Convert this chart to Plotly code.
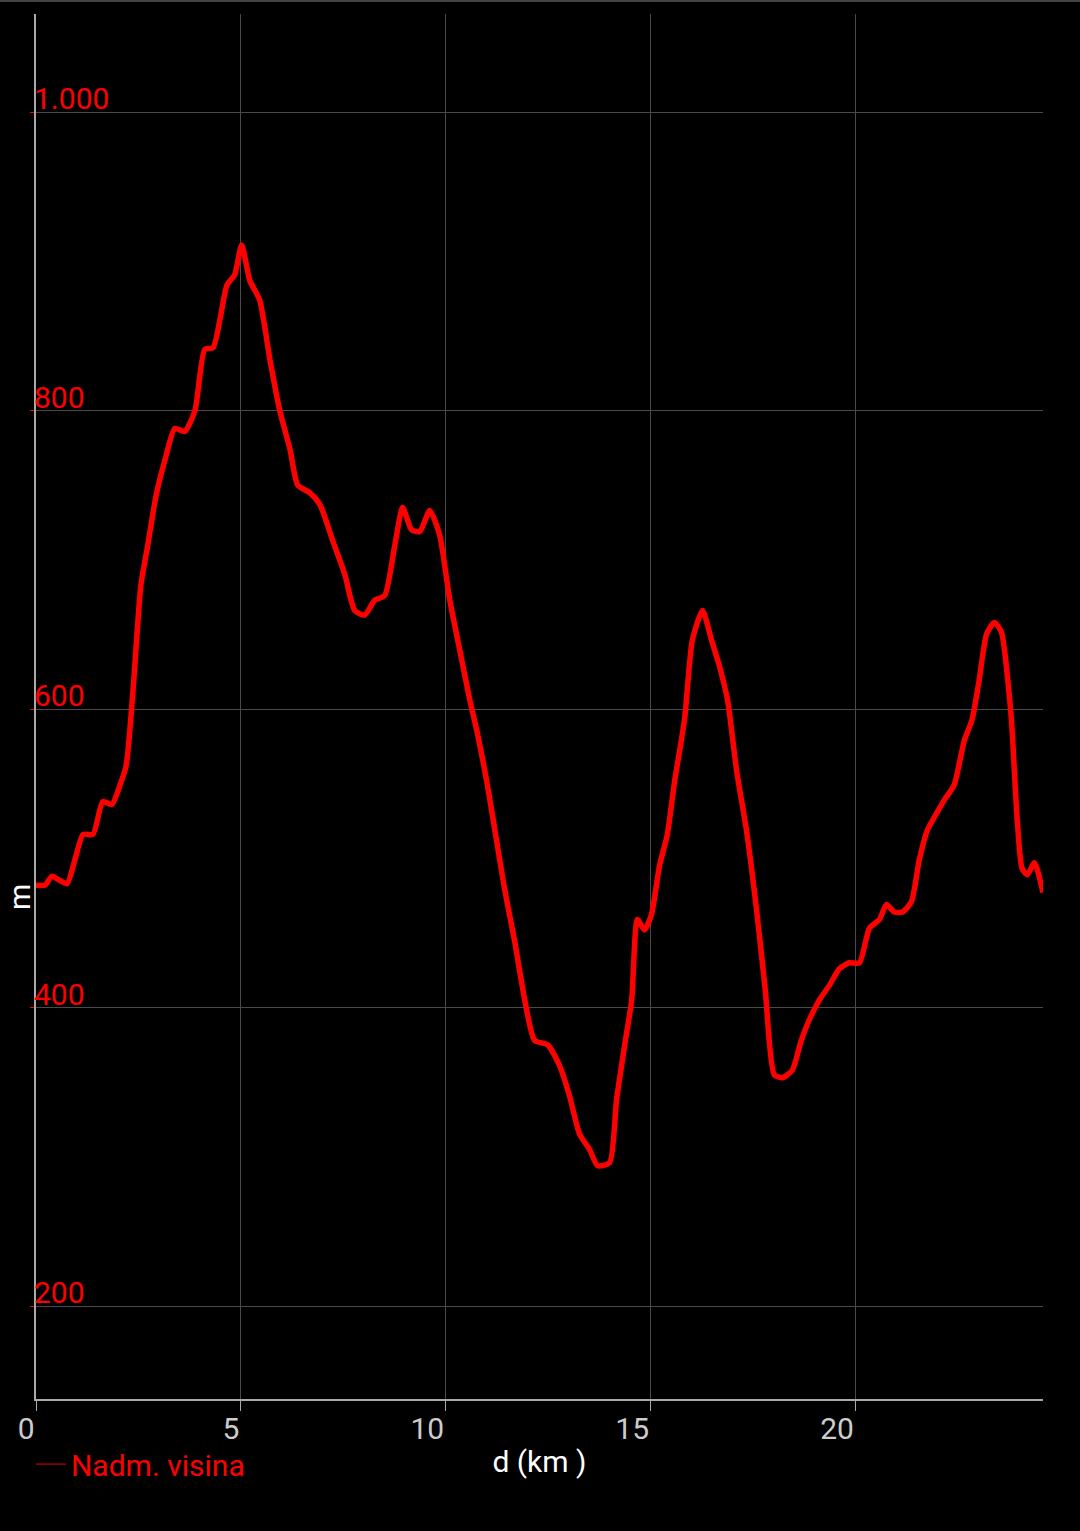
import plotly.graph_objects as go

distance_km = [0.0, 0.22, 0.39, 0.59, 0.76, 0.95, 1.15, 1.39, 1.63, 1.85, 2.05, 2.2, 2.37, 2.56, 2.73,
               2.93, 3.15, 3.39, 3.63, 3.88, 4.12, 4.32, 4.49, 4.66, 4.85, 5.02, 5.22, 5.46, 5.71, 5.95,
               6.2, 6.39, 6.68, 6.93, 7.24, 7.54, 7.78, 8.02, 8.27, 8.51, 8.76, 8.95, 9.17, 9.37, 9.61,
               9.85, 10.1, 10.34, 10.59, 10.78, 11.0, 11.2, 11.44, 11.68, 11.93, 12.17, 12.49, 12.78,
               13.02, 13.27, 13.51, 13.71, 14.0, 14.17, 14.37, 14.54, 14.68, 14.85, 15.02, 15.22, 15.41,
               15.59, 15.83, 16.02, 16.27, 16.49, 16.68, 16.88, 17.1, 17.34, 17.59, 17.8, 18.02, 18.22,
               18.46, 18.68, 18.88, 19.12, 19.37, 19.61, 19.85, 20.1, 20.34, 20.59, 20.76, 20.95, 21.15,
               21.37, 21.56, 21.76, 22.0, 22.17, 22.41, 22.66, 22.85, 23.02, 23.2, 23.39, 23.56, 23.8,
               23.95, 24.07, 24.2, 24.37, 24.58]
elevation_m = [482, 482, 488, 485, 483, 499, 516, 516, 538, 536, 549, 562, 613, 683, 710,
               743, 767, 788, 786, 800, 841, 842, 861, 884, 891, 911, 887, 874, 834, 800,
               774, 750, 745, 737, 713, 690, 666, 663, 673, 676, 710, 735, 720, 719, 733,
               717, 673, 640, 606, 583, 552, 519, 479, 445, 405, 378, 375, 361,
               341, 315, 305, 294, 296, 338, 375, 405, 459, 452, 462, 495, 516,
               552, 593, 646, 666, 646, 629, 606, 559, 519, 465, 412, 355, 353,
               358, 378, 392, 405, 415, 426, 430, 430, 453, 459, 469, 464, 464,
               471, 499, 519, 531, 539, 549, 579, 593, 619, 650, 658, 652, 596,
               526, 493, 489, 497, 477]

x_ticks = [0, 5, 10, 15, 20]
y_ticks = [200, 400, 600, 800, 1000]
series_name = "Nadm. visina"
x_title = "d (km )"
y_title = "m"

RED = "#ff0000"
FONT = "Roboto"
FS = 30
PLOT_H = 1531 - 14 - 132
PLOT_W = 1080 - 36 - 37

fig = go.Figure()
fig.add_trace(go.Scatter(
    x=distance_km, y=elevation_m, mode="lines",
    line=dict(color=RED, width=5.5, shape="spline", smoothing=0.6),
    showlegend=False, hoverinfo="skip",
))
# legend entry (thin dark-red sample as in the reference)
fig.add_trace(go.Scatter(
    x=[None], y=[None], mode="lines", name=series_name,
    line=dict(color="#a00000", width=1.5), showlegend=True,
))

fig.update_layout(
    width=1080, height=1531,
    paper_bgcolor="black", plot_bgcolor="black",
    margin=dict(l=36, r=37, t=14, b=132),
    font=dict(family=FONT, size=FS, color="white"),
    separators=",.",
    legend=dict(
        x=-0.005, xanchor="left", y=-0.047, yanchor="middle",
        orientation="h", font=dict(color=RED, size=FS, family=FONT),
        bgcolor="rgba(0,0,0,0)", itemwidth=30,
    ),
    xaxis=dict(
        range=[0, 24.58], tickvals=x_ticks, ticktext=[str(v) for v in x_ticks],
        ticks="outside", ticklen=10, tickcolor="#aaaaaa", tickwidth=1,
        ticklabelposition="outside left", ticklabeloverflow="allow",
        ticklabelstandoff=2,
        tickfont=dict(color="#cccccc", size=FS, family=FONT),
        showgrid=True, gridcolor="#4a4a4a", gridwidth=1,
        showline=True, linecolor="#aaaaaa", linewidth=2,
        zeroline=False,
        title=dict(text=x_title, font=dict(color="white", size=FS, family=FONT), standoff=6),
    ),
    yaxis=dict(
        range=[137.7, 1065.7], tickvals=y_ticks,
        tickformat=",d",
        ticks="outside", ticklen=4, tickcolor=RED, tickwidth=1,
        ticklabelposition="inside top", ticklabeloverflow="allow",
        ticklabelshift=8,
        tickfont=dict(color=RED, size=FS, family=FONT),
        showgrid=True, gridcolor="#4a4a4a", gridwidth=1,
        showline=True, linecolor="#aaaaaa", linewidth=2,
        zeroline=False,
    ),
    annotations=[dict(
        text=y_title, xref="paper", yref="paper",
        x=(20 - 36) / PLOT_W, y=(1399 - 897) / PLOT_H,
        xanchor="center", yanchor="middle", textangle=-90, showarrow=False,
        font=dict(color="white", size=FS, family=FONT),
    )],
    shapes=[dict(type="line", xref="paper", yref="paper",
                 x0=-0.04, x1=1.04, y0=1 + 13 / PLOT_H, y1=1 + 13 / PLOT_H,
                 line=dict(color="#444444", width=2))],
)

fig.write_html(
    "out.html",
    config={"displayModeBar": False},
    post_script="document.body.style.margin='0';document.body.style.background='black';",
)
